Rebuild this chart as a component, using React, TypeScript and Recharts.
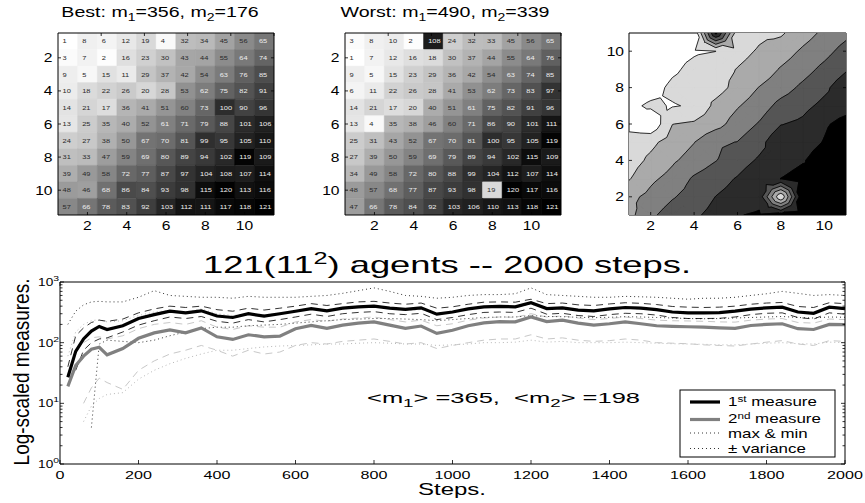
import React from "react";
import { Bar, BarChart, Cell, LabelList, Line, LineChart, Scatter, ScatterChart, XAxis, YAxis } from "recharts";

const FONT = '"Liberation Sans", Arial, Helvetica, sans-serif';

// 11x11 agent grids (row 1 at the top)
const bestGrid = [
  [1, 8, 6, 12, 19, 4, 32, 34, 45, 56, 65],
  [3, 7, 2, 16, 23, 30, 43, 44, 55, 64, 74],
  [9, 5, 15, 11, 29, 37, 42, 54, 63, 76, 85],
  [10, 18, 22, 26, 20, 28, 53, 62, 75, 82, 91],
  [14, 21, 17, 36, 41, 51, 60, 73, 100, 90, 96],
  [13, 25, 35, 40, 52, 61, 71, 79, 88, 101, 106],
  [24, 27, 38, 50, 67, 70, 81, 99, 95, 105, 110],
  [31, 33, 47, 59, 69, 80, 89, 94, 102, 119, 109],
  [39, 49, 58, 72, 77, 87, 97, 104, 108, 107, 114],
  [48, 46, 68, 86, 84, 93, 98, 115, 120, 113, 116],
  [57, 66, 78, 83, 92, 103, 112, 111, 117, 118, 121],
];
const worstGrid = [
  [3, 8, 10, 2, 108, 24, 32, 33, 45, 56, 65],
  [1, 7, 12, 16, 18, 30, 37, 44, 55, 64, 76],
  [9, 5, 15, 23, 29, 36, 42, 54, 63, 74, 85],
  [6, 11, 22, 26, 28, 41, 53, 62, 73, 83, 97],
  [14, 21, 17, 20, 40, 51, 61, 75, 82, 91, 96],
  [13, 4, 35, 38, 46, 60, 71, 86, 90, 101, 111],
  [25, 31, 43, 52, 67, 70, 81, 100, 95, 105, 119],
  [27, 39, 50, 59, 69, 79, 89, 94, 102, 115, 109],
  [34, 49, 58, 72, 80, 88, 99, 104, 112, 107, 114],
  [48, 57, 68, 77, 87, 93, 98, 19, 120, 117, 116],
  [47, 66, 78, 84, 92, 103, 106, 110, 113, 118, 121],
];
const gridCols = [1, 2, 3, 4, 5, 6, 7, 8, 9, 10, 11];
const gridTicks = [2, 4, 6, 8, 10];
const rowTicks = [1.5, 3.5, 5.5, 7.5, 9.5];
const contourLevels = [18.14, 35.29, 52.43, 69.57, 86.71, 103.86];
const contourFills = ["#d9d9d9", "#aaaaaa", "#808080", "#555555", "#2b2b2b", "#000000"];

// time series
const stepsX = [20, 40, 60, 80, 100, 120, 160, 200, 240, 280, 320, 360, 400, 440, 480, 520, 560, 600, 640, 680, 720, 760, 800, 840, 880, 920, 960, 1000, 1040, 1080, 1120, 1160, 1200, 1240, 1280, 1320, 1360, 1400, 1440, 1480, 1520, 1560, 1600, 1640, 1680, 1720, 1760, 1800, 1840, 1880, 1920, 1960, 2000];
const m1 = [27, 72, 115, 155, 185, 165, 190, 250, 290, 330, 310, 335, 275, 260, 300, 275, 300, 330, 365, 335, 370, 390, 400, 370, 355, 375, 295, 320, 360, 390, 395, 390, 455, 365, 375, 345, 335, 360, 380, 370, 350, 320, 310, 310, 312, 330, 358, 375, 385, 320, 305, 385, 365];
const m1Hi = [40, 130, 175, 215, 235, 225, 245, 310, 360, 400, 380, 400, 350, 330, 370, 345, 370, 400, 440, 410, 440, 470, 480, 450, 430, 450, 370, 390, 430, 465, 470, 465, 520, 440, 450, 420, 410, 435, 455, 445, 425, 395, 385, 380, 385, 400, 430, 450, 460, 395, 380, 455, 440];
const m1Lo = [null, 35, 75, 100, 115, 120, 150, 195, 230, 265, 250, 270, 225, 210, 240, 220, 240, 265, 295, 270, 300, 315, 325, 300, 290, 305, 240, 260, 290, 315, 320, 315, 370, 295, 305, 280, 270, 290, 305, 300, 285, 260, 250, 250, 252, 265, 290, 305, 310, 260, 245, 310, 295];
const m1Max = [200, 330, 420, 470, 480, 470, 470, 560, 720, 600, 580, 560, 560, 540, 580, 560, 560, 560, 580, 600, 650, 720, 800, 700, 600, 580, 540, 560, 600, 620, 620, 640, 800, 620, 600, 580, 560, 560, 580, 570, 560, 540, 520, 540, 540, 560, 600, 640, 700, 650, 600, 620, 600];
const m1Min = [null, null, null, 4, 95, 110, 105, 100, 110, 130, 150, 170, 180, 180, 190, 195, 200, 210, 220, 230, 240, 245, 250, 250, 245, 240, 230, 240, 250, 260, 265, 265, 280, 270, 268, 262, 258, 262, 268, 265, 260, 255, 250, 248, 250, 255, 260, 265, 270, 260, 255, 265, 262];
const m2 = [19, 42, 60, 78, 84, 63, 80, 118, 145, 162, 145, 175, 125, 113, 135, 125, 128, 170, 192, 172, 195, 210, 220, 195, 172, 188, 142, 160, 190, 212, 222, 220, 265, 222, 235, 210, 195, 205, 220, 205, 190, 186, 183, 180, 175, 172, 192, 200, 205, 170, 165, 200, 198];
const m2Hi = [30, 70, 100, 120, 125, 115, 130, 170, 200, 215, 200, 230, 180, 165, 190, 180, 180, 220, 240, 225, 245, 255, 265, 240, 220, 235, 190, 205, 235, 255, 265, 262, 300, 265, 275, 255, 240, 250, 265, 250, 235, 230, 228, 225, 220, 218, 235, 245, 250, 215, 210, 245, 240];
const m2Lo = [null, null, 10, 18, 26, 22, 17, 35, 50, 65, 75, 90, 75, 60, 75, 65, 70, 90, 100, 95, 105, 110, 115, 105, 95, 100, 80, 90, 100, 110, 115, 115, 135, 115, 120, 110, 105, 108, 115, 110, 100, 98, 96, 92, 90, 88, 95, 102, 108, 95, 90, 108, 105];
const m2Max = [60, 150, 200, 230, 240, 220, 230, 280, 320, 340, 320, 360, 300, 280, 300, 290, 300, 330, 360, 340, 360, 380, 390, 360, 340, 350, 300, 320, 360, 380, 390, 380, 430, 370, 380, 350, 340, 350, 370, 360, 340, 320, 310, 310, 320, 330, 360, 370, 380, 330, 320, 370, 360];
const m2Min = [null, null, 5, 9, 12, 14, 15, 25, 35, 45, 55, 65, 75, 75, 80, 85, 88, 90, 92, 95, 95, 98, 100, 98, 95, 95, 90, 92, 95, 100, 100, 102, 110, 102, 105, 100, 100, 100, 102, 100, 98, 96, 95, 94, 92, 92, 95, 98, 100, 96, 95, 102, 100];
const stepTicks = [0, 200, 400, 600, 800, 1000, 1200, 1400, 1600, 1800, 2000];
const logTicks = [1, 2, 3, 4, 5, 6, 7, 8, 9, 10, 20, 30, 40, 50, 60, 70, 80, 90, 100, 200, 300, 400, 500, 600, 700, 800, 900, 1000];

const lineStyles = [
  { key: "m2Max", stroke: "#b8b8b8", dash: "1 3", w: 1 },
  { key: "m2Min", stroke: "#b8b8b8", dash: "1 3", w: 1 },
  { key: "m2Hi", stroke: "#c8c8c8", dash: "7 5", w: 1 },
  { key: "m2Lo", stroke: "#c8c8c8", dash: "7 5", w: 1 },
  { key: "m1Max", stroke: "#000", dash: "1 3", w: 0.8 },
  { key: "m1Min", stroke: "#000", dash: "1 3", w: 0.8 },
  { key: "m1Hi", stroke: "#000", dash: "7 5", w: 0.8 },
  { key: "m1Lo", stroke: "#000", dash: "7 5", w: 0.8 },
  { key: "m2", stroke: "#808080", dash: undefined, w: 3.2 },
  { key: "m1", stroke: "#000", dash: undefined, w: 3.2 },
];

function Txt({ x, y, size, sx = 1, anchor = "start", rot = false, fill = "#000", children }: any) {
  const t = rot ? `translate(${x},${y}) rotate(-90) scale(1,${sx})` : `translate(${x},${y}) scale(${sx},1)`;
  return (
    <text transform={t} fontSize={size} fontFamily={FONT} textAnchor={anchor} fill={fill} style={{ whiteSpace: "pre" }}>
      {children}
    </text>
  );
}

type Side = "bottom" | "top" | "left" | "right";
function makeTick(side: Side, len: (v: number) => number, label?: (v: number, x: number, y: number) => React.ReactNode) {
  return (p: any) => {
    const v = Number(p.payload.value);
    const l = len(v);
    const { x, y } = p;
    const c =
      side === "bottom" ? [x, y, x, y - l] : side === "top" ? [x, y, x, y + l] : side === "left" ? [x, y, x + l, y] : [x, y, x - l, y];
    return (
      <g>
        <line x1={c[0]} y1={c[1]} x2={c[2]} y2={c[3]} stroke="#000" strokeWidth={0.8} />
        {label ? label(v, x, y) : null}
      </g>
    );
  };
}

const axisBase = { tickSize: 0, tickMargin: 0, tickLine: false, interval: 0 as const, axisLine: { stroke: "#000", strokeWidth: 1 }, allowDataOverflow: true };
const gridLen = () => 3;
const smallLabelX = (v: number, x: number, y: number) => (
  <Txt x={x} y={y + 15} size={12.5} sx={1.25} anchor="middle">{v}</Txt>
);

function grayOf(v: number) {
  const g = Math.round((255 * (121 - v)) / 120);
  return `rgb(${g},${g},${g})`;
}

function Heatmap({ grid, left }: { grid: number[][]; left: number }) {
  const data = gridCols.map((c, ci) => {
    const o: any = { col: c };
    grid.forEach((row, ri) => {
      o["r" + ri] = 1;
      o["v" + ri] = row[ci];
    });
    return o;
  });
  const cellLabel = (p: any) => {
    const vb = p.viewBox ?? p;
    const v = Number(p.value);
    return (
      <Txt x={vb.x + 4.6} y={vb.y + vb.height / 2 + 2.2} size={6.2} sx={1.2} fill={v >= 61 ? "#eeeeee" : "#2a2a2a"}>
        {v}
      </Txt>
    );
  };
  return (
    <div style={{ position: "absolute", left, top: 0 }}>
      <BarChart width={268} height={240} data={data} margin={{ top: 0, right: 0, bottom: 0, left: 0 }} barCategoryGap={0} barGap={0}>
        <XAxis xAxisId="b" dataKey="col" type="number" domain={[0.5, 11.5]} ticks={gridTicks} height={25} {...axisBase}
          tick={makeTick("bottom", gridLen, smallLabelX)} />
        <XAxis xAxisId="t" orientation="top" type="number" domain={[0.5, 11.5]} ticks={gridTicks} height={33} {...axisBase}
          tick={makeTick("top", gridLen)} />
        <YAxis yAxisId="l" type="number" domain={[0, 11]} reversed ticks={rowTicks} width={40} {...axisBase}
          tick={makeTick("left", gridLen, (v, x, y) => (
            <Txt x={x - 5.5} y={y + 4.5} size={12.5} sx={1.25} anchor="end">{v + 0.5}</Txt>
          ))} />
        <YAxis yAxisId="r" orientation="right" type="number" domain={[0, 11]} reversed ticks={rowTicks} width={12} {...axisBase}
          tick={makeTick("right", gridLen)} />
        {grid.map((row, ri) => (
          <Bar key={ri} xAxisId="b" yAxisId="l" dataKey={"r" + ri} stackId="s" isAnimationActive={false}>
            {row.map((v, ci) => (
              <Cell key={ci} fill={grayOf(v)} stroke={grayOf(v)} strokeWidth={0.5} />
            ))}
            <LabelList dataKey={"v" + ri} content={cellLabel} />
          </Bar>
        ))}
      </BarChart>
    </div>
  );
}

type P = { x: number; y: number; f: number };
function zAt(ix: number, iy: number) {
  return worstGrid[11 - iy][ix - 1];
}
function clipAbove(poly: P[], L: number): P[] {
  const out: P[] = [];
  for (let i = 0; i < poly.length; i++) {
    const a = poly[i];
    const b = poly[(i + 1) % poly.length];
    const ina = a.f >= L;
    const inb = b.f >= L;
    if (ina) out.push(a);
    if (ina !== inb) {
      const t = (L - a.f) / (b.f - a.f);
      out.push({ x: a.x + t * (b.x - a.x), y: a.y + t * (b.y - a.y), f: L });
    }
  }
  return out;
}

// filled bands (painter's order, region f >= level) and iso-lines from the worst grid
function buildContour() {
  const fills = contourLevels.map(() => ({ pts: [] as { x: number; y: number }[], sizes: [] as number[] }));
  const segs: { x: number; y: number }[] = [];
  for (let ix = 1; ix <= 10; ix++) {
    for (let iy = 1; iy <= 10; iy++) {
      const p00 = { x: ix, y: iy, f: zAt(ix, iy) };
      const p10 = { x: ix + 1, y: iy, f: zAt(ix + 1, iy) };
      const p11 = { x: ix + 1, y: iy + 1, f: zAt(ix + 1, iy + 1) };
      const p01 = { x: ix, y: iy + 1, f: zAt(ix, iy + 1) };
      const c = { x: ix + 0.5, y: iy + 0.5, f: (p00.f + p10.f + p11.f + p01.f) / 4 };
      const fs = [p00.f, p10.f, p11.f, p01.f];
      const tris = [[p00, p10, c], [p10, p11, c], [p11, p01, c], [p01, p00, c]];
      contourLevels.forEach((L, k) => {
        if (Math.min(...fs) >= L) {
          fills[k].pts.push(p00, p10, p11, p01);
          fills[k].sizes.push(4);
          return;
        }
        if (Math.max(...fs) < L) return;
        tris.forEach((t) => {
          const poly = clipAbove(t, L);
          if (poly.length >= 3) {
            fills[k].pts.push(...poly);
            fills[k].sizes.push(poly.length);
          }
          const cross: { x: number; y: number }[] = [];
          for (let i = 0; i < 3; i++) {
            const a = t[i];
            const b = t[(i + 1) % 3];
            if ((a.f - L) * (b.f - L) < 0) {
              const u = (L - a.f) / (b.f - a.f);
              cross.push({ x: a.x + u * (b.x - a.x), y: a.y + u * (b.y - a.y) });
            }
          }
          if (cross.length === 2) segs.push(cross[0], cross[1]);
        });
      });
    }
  }
  return { fills, segs };
}
const contour = buildContour();

const NoShape = () => <g />;
const polyLine = (sizes: number[], color: string) => (props: any) => {
  const pts = props.points as { x: number; y: number }[];
  let d = "";
  let i = 0;
  for (const n of sizes) {
    d += "M" + pts.slice(i, i + n).map((q) => `${q.x.toFixed(2)},${q.y.toFixed(2)}`).join("L") + "Z";
    i += n;
  }
  return <path d={d} fill={color} stroke={color} strokeWidth={0.6} strokeLinejoin="round" />;
};
const segLine = (props: any) => {
  const pts = props.points as { x: number; y: number }[];
  let d = "";
  for (let i = 0; i + 1 < pts.length; i += 2) {
    d += `M${pts[i].x.toFixed(2)},${pts[i].y.toFixed(2)}L${pts[i + 1].x.toFixed(2)},${pts[i + 1].y.toFixed(2)}`;
  }
  return <path d={d} fill="none" stroke="#000" strokeWidth={0.8} />;
};

function ContourPanel({ left }: { left: number }) {
  return (
    <div style={{ position: "absolute", left, top: 0 }}>
      <ScatterChart width={269} height={240} margin={{ top: 0, right: 0, bottom: 0, left: 0 }}>
        <XAxis xAxisId="b" dataKey="x" type="number" domain={[1, 11]} ticks={gridTicks} height={25} {...axisBase}
          tick={makeTick("bottom", gridLen, smallLabelX)} />
        <XAxis xAxisId="t" orientation="top" type="number" domain={[1, 11]} ticks={gridTicks} height={33} {...axisBase}
          tick={makeTick("top", gridLen)} />
        <YAxis yAxisId="l" dataKey="y" type="number" domain={[1, 11]} ticks={gridTicks} width={40} {...axisBase}
          tick={makeTick("left", gridLen, (v, x, y) => (
            <Txt x={x - 5} y={y + 4.5} size={12.5} sx={1.25} anchor="end">{v}</Txt>
          ))} />
        <YAxis yAxisId="r" orientation="right" type="number" domain={[1, 11]} ticks={gridTicks} width={12} {...axisBase}
          tick={makeTick("right", gridLen)} />
        {contour.fills.map((f, k) => (
          <Scatter key={k} xAxisId="b" yAxisId="l" data={f.pts} shape={NoShape} line={polyLine(f.sizes, contourFills[k])} isAnimationActive={false} />
        ))}
        <Scatter xAxisId="b" yAxisId="l" data={contour.segs} shape={NoShape} line={segLine} isAnimationActive={false} />
      </ScatterChart>
    </div>
  );
}

function Series() {
  const data = stepsX.map((s, i) => ({
    s, m1: m1[i], m1Hi: m1Hi[i], m1Lo: m1Lo[i], m1Max: m1Max[i], m1Min: m1Min[i],
    m2: m2[i], m2Hi: m2Hi[i], m2Lo: m2Lo[i], m2Max: m2Max[i], m2Min: m2Min[i],
  }));
  const logLen = (v: number) => (Math.abs(Math.log10(v) - Math.round(Math.log10(v))) < 1e-9 ? 4 : 2.5);
  return (
    <div style={{ position: "absolute", left: 0, top: 240 }}>
      <LineChart width={865} height={263} data={data} margin={{ top: 0, right: 0, bottom: 0, left: 0 }}>
        <XAxis xAxisId="b" dataKey="s" type="number" domain={[0, 2000]} ticks={stepTicks} height={39} {...axisBase}
          tick={makeTick("bottom", () => 4, (v, x, y) => (
            <Txt x={x} y={y + 15} size={11.5} sx={1.4} anchor="middle">{v}</Txt>
          ))} />
        <XAxis xAxisId="t" orientation="top" type="number" domain={[0, 2000]} ticks={stepTicks} height={42} {...axisBase}
          tick={makeTick("top", () => 4)} />
        <YAxis yAxisId="l" type="number" scale="log" domain={[1, 1000]} ticks={logTicks} width={60} {...axisBase}
          tick={makeTick("left", logLen, (v, x, y) => {
            const e = Math.log10(v);
            if (Math.abs(e - Math.round(e)) > 1e-9) return null;
            return (
              <Txt x={x - 1} y={y + 4} size={10.5} sx={1.3} anchor="end">
                10<tspan dy={-5} fontSize={8}>{Math.round(e)}</tspan>
              </Txt>
            );
          })} />
        <YAxis yAxisId="r" orientation="right" type="number" scale="log" domain={[1, 1000]} ticks={logTicks} width={20} {...axisBase}
          tick={makeTick("right", logLen)} />
        {lineStyles.map((ls) => (
          <Line key={ls.key} xAxisId="b" yAxisId="l" type="linear" dataKey={ls.key} stroke={ls.stroke} strokeWidth={ls.w}
            strokeDasharray={ls.dash} dot={false} activeDot={false} isAnimationActive={false} />
        ))}
      </LineChart>
    </div>
  );
}

function Overlay() {
  return (
    <svg width={865} height={503} style={{ position: "absolute", left: 0, top: 0, pointerEvents: "none" }}>
      <Txt x={160} y={17} size={14} sx={1.4} anchor="middle">
        Best: m<tspan dy={4} fontSize={10}>1</tspan><tspan dy={-4}>=356, m</tspan><tspan dy={4} fontSize={10}>2</tspan><tspan dy={-4}>=176</tspan>
      </Txt>
      <Txt x={445} y={17} size={14} sx={1.4} anchor="middle">
        Worst: m<tspan dy={4} fontSize={10}>1</tspan><tspan dy={-4}>=490, m</tspan><tspan dy={4} fontSize={10}>2</tspan><tspan dy={-4}>=339</tspan>
      </Txt>
      <Txt x={447} y={273} size={23} sx={1.58} anchor="middle">
        121(11<tspan dy={-9} fontSize={16}>2</tspan><tspan dy={9}>) agents -- 2000 steps.</tspan>
      </Txt>
      <Txt x={29} y={372} size={19} sx={1.15} anchor="middle" rot>Log-scaled measures.</Txt>
      <Txt x={452} y={495} size={16} sx={1.5} anchor="middle">Steps.</Txt>
      <Txt x={367} y={403} size={15} sx={1.7}>
        {"<m"}<tspan dy={4} fontSize={11}>1</tspan><tspan dy={-4}>{"> =365,  <m"}</tspan><tspan dy={4} fontSize={11}>2</tspan><tspan dy={-4}>{"> =198"}</tspan>
      </Txt>
      <rect x={680} y={390} width={155} height={67} fill="#fff" stroke="#000" strokeWidth={1} />
      <line x1={690} y1={402} x2={720} y2={402} stroke="#000" strokeWidth={3.2} />
      <line x1={690} y1={419.5} x2={720} y2={419.5} stroke="#808080" strokeWidth={3.2} />
      <line x1={690} y1={433} x2={720} y2={433} stroke="#000" strokeWidth={0.8} strokeDasharray="1 3" />
      <line x1={690} y1={448.5} x2={720} y2={448.5} stroke="#000" strokeWidth={0.8} strokeDasharray="1 3" />
      <Txt x={728} y={406} size={13} sx={1.3}>
        1<tspan dy={-4} fontSize={9}>st</tspan><tspan dy={4}> measure</tspan>
      </Txt>
      <Txt x={728} y={423} size={13} sx={1.3}>
        2<tspan dy={-4} fontSize={9}>nd</tspan><tspan dy={4}> measure</tspan>
      </Txt>
      <Txt x={728} y={437.5} size={13} sx={1.3}>max &amp; min</Txt>
      <Txt x={728} y={453} size={13} sx={1.3}>± variance</Txt>
    </svg>
  );
}

export default function App() {
  return (
    <div style={{ position: "relative", width: 865, height: 503, background: "#fff", overflow: "hidden" }}>
      <style>{"body{margin:0}"}</style>
      <Heatmap grid={bestGrid} left={18} />
      <Heatmap grid={worstGrid} left={305} />
      <ContourPanel left={589} />
      <Series />
      <Overlay />
    </div>
  );
}
